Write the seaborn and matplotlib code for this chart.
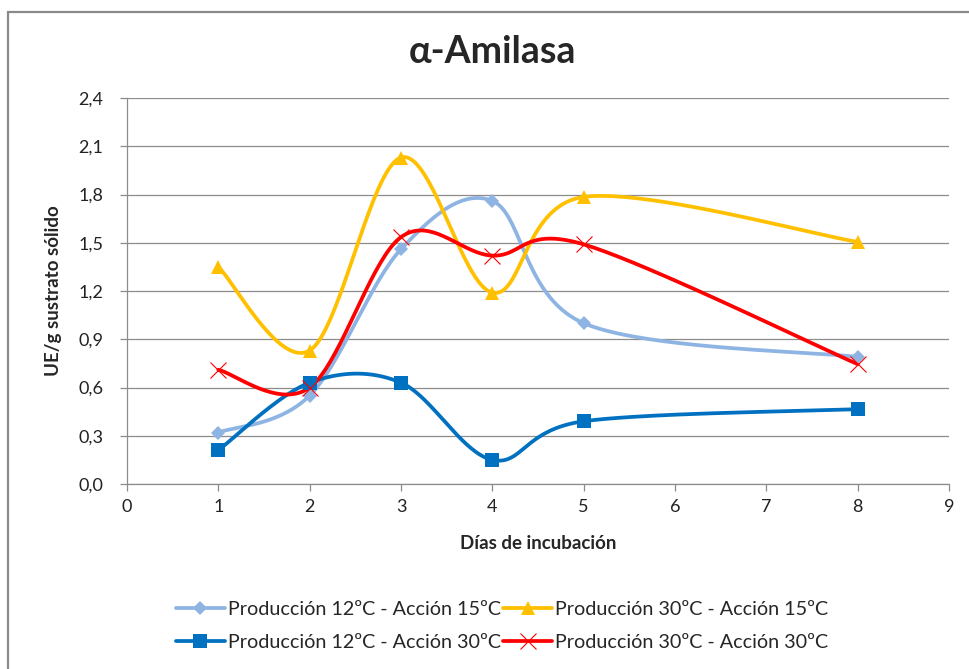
import numpy as np
import pandas as pd
import matplotlib.pyplot as plt
import seaborn as sns
from matplotlib.lines import Line2D
from matplotlib.patches import Rectangle

sns.set_theme(style="white")
plt.rcParams['font.family'] = ['Lato', 'DejaVu Sans']

# data
dias = [1, 2, 3, 4, 5, 8]
p12_a15 = [0.32, 0.55, 1.46, 1.76, 1.00, 0.79]
p30_a15 = [1.35, 0.83, 2.03, 1.19, 1.785, 1.505]
p12_a30 = [0.21, 0.63, 0.63, 0.15, 0.39, 0.465]
p30_a30 = [0.71, 0.60, 1.535, 1.42, 1.49, 0.745]

series = ["Producción 12ºC - Acción 15ºC", "Producción 30ºC - Acción 15ºC",
          "Producción 12ºC - Acción 30ºC", "Producción 30ºC - Acción 30ºC"]
colors = ["#8EB4E3", "#FFC000", "#0070C0", "#FF0000"]
markers = ["D", "^", "s", "x"]
msizes = [7.5, 10.5, 9.5, 12]

df = pd.DataFrame({
    "dia": dias * 4,
    "valor": p12_a15 + p30_a15 + p12_a30 + p30_a30,
    "serie": np.repeat(series, len(dias)),
})

XMAX, YMAX = 9, 2.4
SX, SY = 822 / XMAX, 386 / YMAX  # rough screen scale, smoothing like Excel


def smooth(x, y, n=40):
    # Catmull-Rom style bezier through the points (screen space)
    p = np.column_stack([np.array(x) * SX, np.array(y) * SY])
    p = np.vstack([p[0], p, p[-1]])
    out = []
    for i in range(1, len(p) - 2):
        p0, p1, p2, p3 = p[i - 1], p[i], p[i + 1], p[i + 2]
        c1 = p1 + (p2 - p0) / 6
        c2 = p2 - (p3 - p1) / 6
        t = np.linspace(0, 1, n)[:, None]
        b = ((1 - t) ** 3) * p1 + 3 * ((1 - t) ** 2) * t * c1 + 3 * (1 - t) * t ** 2 * c2 + t ** 3 * p2
        out.append(b)
    out = np.vstack(out)
    return out[:, 0] / SX, out[:, 1] / SY


fig = plt.figure(figsize=(9.69, 6.69), dpi=100)
ax = fig.add_axes([127 / 969, 1 - 484 / 669, 822 / 969, 386 / 669])

for name, c in zip(series, colors):
    sub = df[df["serie"] == name]
    sx, sy = smooth(sub["dia"], sub["valor"])
    ax.plot(sx, sy, color=c, lw=2.7, zorder=2, solid_capstyle="round")

for name, c, m, s in zip(series, colors, markers, msizes):
    sub = df[df["serie"] == name]
    if m == "x":
        ax.plot(sub["dia"], sub["valor"], ls="none", marker=m, ms=s, mew=0.8, color=c, zorder=3)
    else:
        ax.plot(sub["dia"], sub["valor"], ls="none", marker=m, ms=s, mew=0, color=c, zorder=3)

ax.set_xlim(0, XMAX)
ax.set_ylim(0, YMAX)
yt = np.arange(0, 2.41, 0.3)
ax.set_yticks(yt)
ax.set_yticklabels([f"{v:.1f}".replace(".", ",") for v in yt])
ax.set_xticks(range(0, 10))
ax.yaxis.grid(True, color="#8c8c8c", lw=0.9)
ax.xaxis.grid(False)
for s in ["top", "right"]:
    ax.spines[s].set_visible(False)
for s in ["left", "bottom"]:
    ax.spines[s].set_color("#8c8c8c")
    ax.spines[s].set_linewidth(0.9)
ax.tick_params(axis="both", labelsize=13, colors="#8c8c8c", labelcolor="#222222",
               length=5, width=0.9, direction="out", left=True, bottom=True, pad=6)
ax.tick_params(axis="y", pad=12)

ax.set_xlabel("Días de incubación", fontsize=13.5, fontweight="bold", labelpad=14)
ax.set_ylabel("UE/g sustrato sólido", fontsize=13.5, fontweight="bold", labelpad=12)
fig.text(492 / 969, 1 - 52 / 669, "α-Amilasa", ha="center", va="center",
         fontsize=27, fontweight="bold")

handles = []
for name, c, m, s in zip(series, colors, markers, msizes):
    handles.append(Line2D([0], [0], color=c, lw=2.7, marker=m, ms=s,
                          mew=0.8 if m == "x" else 0, label=name))
order = [0, 2, 1, 3]
fig.legend([handles[i] for i in order], [series[i] for i in order], ncol=2,
           loc="center", bbox_to_anchor=(502 / 969, 1 - 626 / 669), frameon=False,
           fontsize=14.2, handlelength=2.5, handletextpad=0.15, columnspacing=0.1,
           labelspacing=0.85)

fig.patches.append(Rectangle((8 / 969, -0.1), 1.2, 1 - 12 / 669 + 0.1, transform=fig.transFigure,
                             fill=False, edgecolor="#8a8a8a", lw=1.6))

fig.savefig("out.png", dpi=100)
